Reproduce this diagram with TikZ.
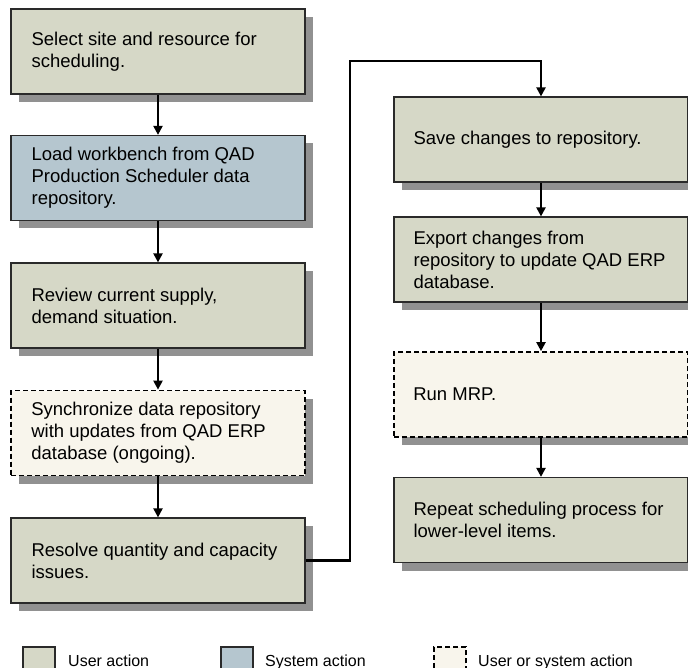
\documentclass[tikz,border=0pt]{standalone}
\usepackage{fontspec}
\setmainfont{Liberation Sans}
\usetikzlibrary{arrows.meta,shadows}
\definecolor{usercol}{HTML}{D6D8C7}
\definecolor{syscol}{HTML}{B5C6CF}
\definecolor{bothcol}{HTML}{F8F5EC}
\definecolor{shadowc}{HTML}{919191}
\definecolor{boxline}{HTML}{2A2A2A}
\begin{document}
\begin{tikzpicture}[x=1pt,y=-1pt,
  box/.style={draw=boxline, line width=1.2pt, minimum width=294pt, minimum height=85pt, inner sep=0pt,
    drop shadow={shadow xshift=8pt, shadow yshift=-8pt, fill=shadowc, opacity=1}},
  useract/.style={box, fill=usercol},
  sysact/.style={box, fill=syscol},
  bothact/.style={box, fill=bothcol, draw=black, dash pattern=on 5pt off 3pt, line width=1.7pt},
  txt/.style={font=\fontsize{18.5}{22}\selectfont, align=left, inner sep=0pt, anchor=west},
  conn/.style={line width=2.1pt, -{Triangle[width=9pt,length=9pt]}},
  legbox/.style={draw=boxline, line width=1.2pt, minimum width=32pt, minimum height=40pt, inner sep=0pt},
  legtxt/.style={font=\fontsize{16}{19}\selectfont, anchor=base west, inner sep=0pt}]
\clip (0,0) rectangle (688,668);
\fill[white] (0,0) rectangle (688,668);
% left column
\node[useract] (b1) at (158,51.5) {};
\node[txt] (b1t) at ([xshift=21pt]b1.west) {Select site and resource for\\scheduling.};
\node[sysact] (b2) at (158,178) {};
\node[txt] (b2t) at ([xshift=21pt]b2.west) {Load workbench from QAD\\Production Scheduler data\\repository.};
\node[useract] (b3) at (158,305.5) {};
\node[txt] (b3t) at ([xshift=21pt]b3.west) {Review current supply,\\demand situation.};
\node[bothact] (b4) at (158,433) {};
\node[txt] (b4t) at ([xshift=21pt]b4.west) {Synchronize data repository\\with updates from QAD ERP\\database (ongoing).};
\node[useract] (b5) at (158,560.5) {};
\node[txt] (b5t) at ([xshift=21pt]b5.west) {Resolve quantity and capacity\\issues.};
% right column
\node[useract] (r1) at (541,139.5) {};
\node[txt] (r1t) at ([xshift=20pt]r1.west) {Save changes to repository.};
\node[useract] (r2) at (541,259.5) {};
\node[txt] (r2t) at ([xshift=20pt]r2.west) {Export changes from\\repository to update QAD ERP\\database.};
\node[bothact] (r3) at (541,394.5) {};
\node[txt] (r3t) at ([xshift=20pt]r3.west) {Run MRP.};
\node[useract] (r4) at (541,520) {};
\node[txt] (r4t) at ([xshift=20pt]r4.west) {Repeat scheduling process for\\lower-level items.};
% connectors
\draw[conn] (b1) -- (b2);
\draw[conn] (b2) -- (b3);
\draw[conn] (b3) -- (b4);
\draw[conn] (b4) -- (b5);
\coordinate (c1) at (350,61);
\draw[conn] (b5.east) -| (c1) -| (r1.north);
\draw[conn] (r1) -- (r2);
\draw[conn] (r2) -- (r3);
\draw[conn] (r3) -- (r4);
% legend
\node[legbox, fill=usercol] (l1) at (39,667) {};
\node[legtxt] (l1t) at (68,666) {User action};
\node[legbox, fill=syscol] (l2) at (237,667) {};
\node[legtxt] (l2t) at (265,666) {System action};
\node[legbox, fill=bothcol, draw=black, dash pattern=on 5pt off 3pt, line width=1.7pt] (l3) at (450,667) {};
\node[legtxt] (l3t) at (478,666) {User or system action};
\end{tikzpicture}
\end{document}
